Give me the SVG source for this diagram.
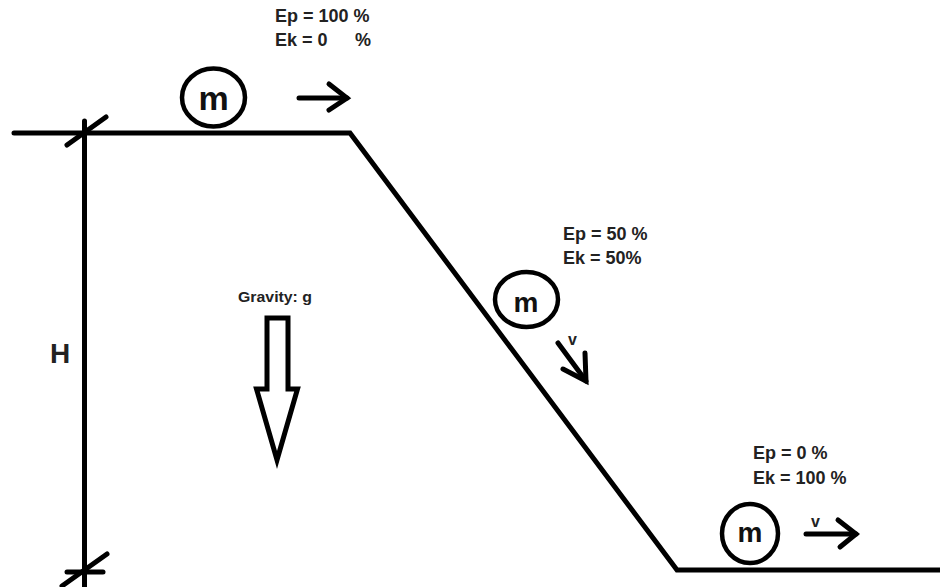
<svg xmlns="http://www.w3.org/2000/svg" width="940" height="587" viewBox="0 0 940 587">
<style>
.ln{fill:none;stroke:#000;stroke-width:5;stroke-linecap:round;stroke-linejoin:miter}
.ball{fill:#fff;stroke:#000;stroke-width:4.5}
.lbl{font-family:"Liberation Sans",Arial,sans-serif;font-weight:bold;fill:#222;font-size:18px}
.m{font-family:"Liberation Sans",Arial,sans-serif;font-weight:bold;fill:#111;text-anchor:middle}
</style>
<rect width="940" height="587" fill="#fff"/>
<g id="terrain">
<polyline class="ln" points="14,133 350,133 677,570 940,570"/>
</g>
<g id="height">
<line class="ln" x1="84.5" y1="121" x2="84.5" y2="590"/>
<line class="ln" x1="67" y1="145" x2="106" y2="117"/>
<line class="ln" x1="67" y1="572" x2="103" y2="572" stroke-linecap="butt"/>
<line class="ln" x1="62" y1="586" x2="107" y2="554"/>
<text class="lbl" x="50" y="363" style="font-size:28px">H</text>
</g>
<g id="ball1">
<ellipse class="ball" cx="213.5" cy="97.5" rx="31.5" ry="29"/>
<text class="m" x="213.5" y="110" style="font-size:34px">m</text>
</g>
<g id="ball2">
<ellipse class="ball" cx="526.5" cy="299.5" rx="31.5" ry="27.5"/>
<text class="m" x="526" y="312" style="font-size:28px">m</text>
</g>
<g id="ball3">
<ellipse class="ball" cx="750" cy="533.5" rx="28" ry="29.5"/>
<text class="m" x="750" y="542" style="font-size:28px">m</text>
</g>
<g id="labels">
<text class="lbl" x="275" y="22">Ep = 100 %</text>
<text class="lbl" x="275" y="46">Ek = 0<tspan x="355">%</tspan></text>
<text class="lbl" x="563" y="240">Ep = 50 %</text>
<text class="lbl" x="563" y="264">Ek = 50%</text>
<text class="lbl" x="753" y="459">Ep = 0 %</text>
<text class="lbl" x="753" y="484">Ek = 100 %</text>
</g>
<g id="gravity">
<text class="lbl" x="238" y="302" style="font-size:15px" textLength="74" lengthAdjust="spacingAndGlyphs">Gravity: g</text>
<polygon class="ln" points="267,318 288,318 288,389 297.5,389 277,460 256.5,389 267,389" stroke-linejoin="miter"/>
</g>
<g id="connectors">
<line class="ln" x1="299" y1="98" x2="347" y2="98"/>
<polyline class="ln" points="329,84 347,98 329,110"/>
<line class="ln" x1="558" y1="343" x2="586" y2="381"/>
<polyline class="ln" points="563,369 586,381 585,353"/>
<text class="lbl" x="568" y="345" style="font-size:16px">v</text>
<line class="ln" x1="806" y1="534" x2="856" y2="534"/>
<polyline class="ln" points="838,520 856,534 840,547"/>
<text class="lbl" x="811" y="527" style="font-size:16px">v</text>
</g>
</svg>
